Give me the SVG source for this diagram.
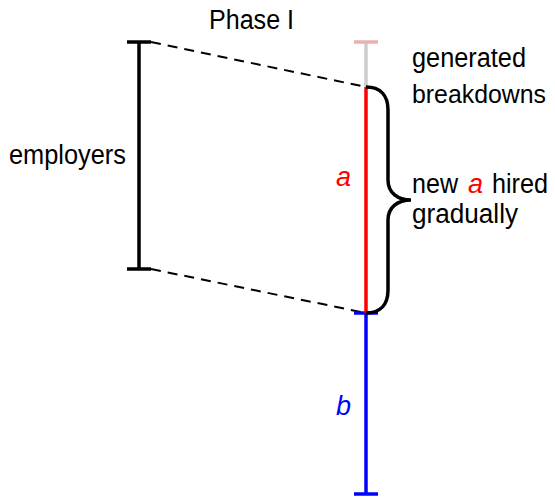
<svg xmlns="http://www.w3.org/2000/svg" width="555" height="497" viewBox="0 0 555 497">
<style>
text{font-family:"Liberation Sans",Arial,sans-serif;font-size:27px;fill:#000}
.it{font-style:italic}
.dash{stroke:#000;stroke-width:2;stroke-dasharray:10 7;fill:none}
.bar{stroke-width:3.5;fill:none}
</style>
<rect width="555" height="497" fill="#fff"/>
<g id="connectors">
<line class="dash" x1="151" y1="42" x2="366" y2="87"/>
<line class="dash" x1="151" y1="269" x2="366" y2="313"/>
</g>
<g id="employers">
<line class="bar" stroke="#000" x1="139" y1="42" x2="139" y2="269"/>
<line class="bar" stroke="#000" x1="127" y1="42" x2="151" y2="42"/>
<line class="bar" stroke="#000" x1="127" y1="269" x2="151" y2="269"/>
<text x="126" y="164" text-anchor="end" textLength="117" lengthAdjust="spacingAndGlyphs">employers</text>
</g>
<g id="phase">
<text x="209" y="29" textLength="85" lengthAdjust="spacingAndGlyphs">Phase I</text>
</g>
<g id="breakdowns">
<line class="bar" stroke="#cccccc" x1="366" y1="42" x2="366" y2="87"/>
<line class="bar" stroke="#e8b0b0" x1="354" y1="42" x2="378" y2="42"/>
<text x="412" y="67" textLength="114" lengthAdjust="spacingAndGlyphs">generated</text>
<text x="412" y="103" style="font-size:25px" textLength="134" lengthAdjust="spacingAndGlyphs">breakdowns</text>
</g>
<g id="b-segment">
<line class="bar" stroke="#0000ff" x1="366" y1="313" x2="366" y2="494"/>
<line class="bar" stroke="#0000ff" x1="354" y1="313" x2="378" y2="313"/>
<line class="bar" stroke="#0000ff" x1="354" y1="494" x2="378" y2="494"/>
<text class="it" x="336" y="415" style="fill:#0000ff">b</text>
</g>
<g id="a-segment">
<line class="bar" stroke="#ff0000" x1="366" y1="87" x2="366" y2="313"/>
<text class="it" x="336" y="186" style="fill:#ff0000">a</text>
</g>
<g id="brace">
<path d="M366,87 C380,87 388,95 388,110 L388,180 C388,193 398,200 411,200 C398,200 388,207 388,220 L388,290 C388,305 380,313 366,313" fill="none" stroke="#000" stroke-width="3.5"/>
<text x="412" y="193" textLength="46" lengthAdjust="spacingAndGlyphs">new</text>
<text class="it" x="468" y="193" style="fill:#ff0000">a</text>
<text x="492" y="193" textLength="56" lengthAdjust="spacingAndGlyphs">hired</text>
<text x="412" y="223" textLength="106" lengthAdjust="spacingAndGlyphs">gradually</text>
</g>
</svg>
